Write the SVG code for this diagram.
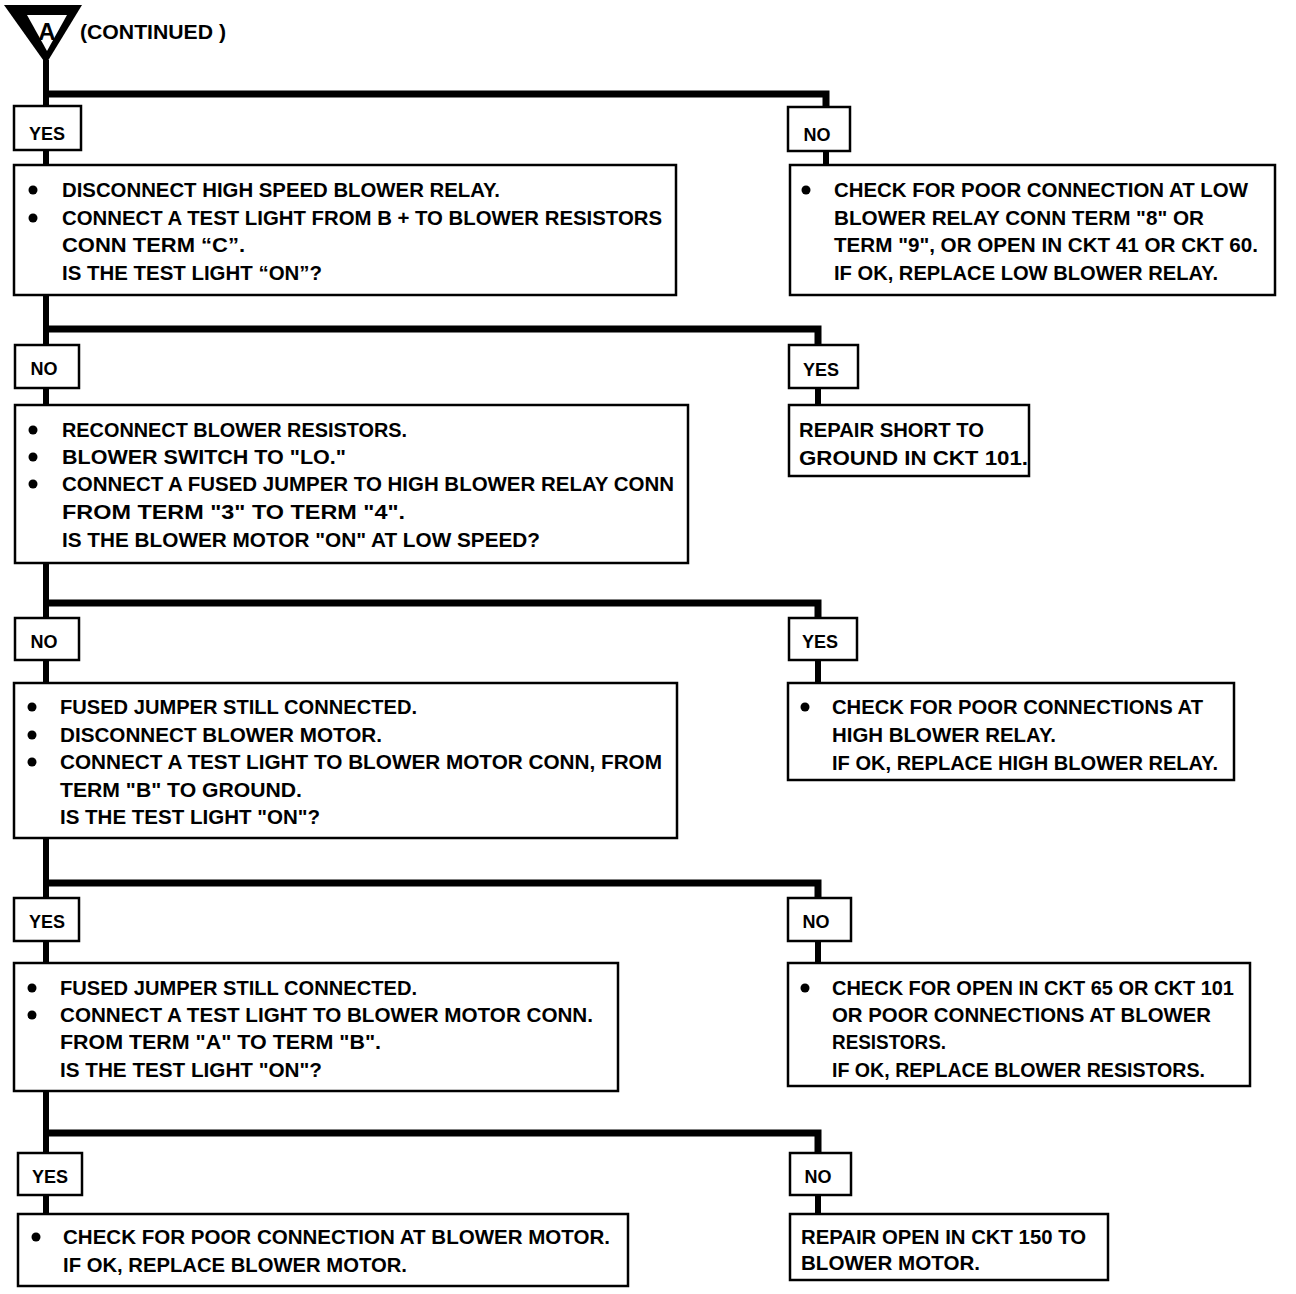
<svg xmlns="http://www.w3.org/2000/svg" width="1296" height="1294" viewBox="0 0 1296 1294">
<style>
.bx{fill:#fff;stroke:#000;stroke-width:2.5}
.lb{fill:#fff;stroke:#000;stroke-width:2.5}
.t{font-family:"Liberation Sans Narrow","Liberation Sans",Arial,sans-serif;font-weight:bold;font-size:20px;fill:#000}
.l{font-family:"Liberation Sans","DejaVu Sans",sans-serif;font-weight:bold;font-size:18px;fill:#000;text-anchor:middle}
.c{fill:none;stroke:#000;stroke-width:7;stroke-linejoin:miter;stroke-linecap:butt}
.s{fill:none;stroke:#000;stroke-width:6}
</style>
<rect width="1296" height="1294" fill="#fff"/>
<g id="start">
<polygon points="4,5 82,5 46,64" fill="#000"/>
<polygon points="27,15 67,15 47,51" fill="#fff"/>
<text x="47" y="40" font-family="Liberation Sans,sans-serif" font-weight="bold" font-size="24" text-anchor="middle">A</text>
<text class="t" x="80" y="39" textLength="146" lengthAdjust="spacingAndGlyphs">(CONTINUED )</text>
</g>
<g id="connectors">
<line class="s" x1="46" y1="60" x2="46" y2="1214"/>
<path class="c" d="M43,94 H826 V108"/>
<line class="s" x1="826" y1="150" x2="826" y2="165"/>
<path class="c" d="M43,329 H818 V345"/>
<line class="s" x1="818" y1="387" x2="818" y2="406"/>
<path class="c" d="M43,603 H818 V618"/>
<line class="s" x1="818" y1="659" x2="818" y2="684"/>
<path class="c" d="M43,883 H818 V899"/>
<line class="s" x1="818" y1="940" x2="818" y2="964"/>
<path class="c" d="M43,1133 H818 V1153"/>
<line class="s" x1="818" y1="1194" x2="818" y2="1215"/>
</g>
<g id="yes1"><rect class="lb" x="14" y="106" width="67" height="44"/><text class="l" x="47" y="140">YES</text></g>
<g id="no1"><rect class="lb" x="788" y="107" width="62" height="44"/><text class="l" x="817" y="141">NO</text></g>
<g id="box1">
<rect class="bx" x="14" y="165" width="662" height="130"/>
<circle cx="33" cy="190" r="4.5"/><circle cx="33" cy="218" r="4.5"/>
<text class="t" x="62" y="197" textLength="438" lengthAdjust="spacingAndGlyphs">DISCONNECT HIGH SPEED BLOWER RELAY.</text>
<text class="t" x="62" y="225" textLength="600" lengthAdjust="spacingAndGlyphs">CONNECT A TEST LIGHT FROM B +  TO BLOWER RESISTORS</text>
<text class="t" x="62" y="252" textLength="183" lengthAdjust="spacingAndGlyphs">CONN TERM “C”.</text>
<text class="t" x="62" y="280" textLength="260" lengthAdjust="spacingAndGlyphs">IS THE TEST LIGHT “ON”?</text>
</g>
<g id="box2">
<rect class="bx" x="790" y="165" width="485" height="130"/>
<circle cx="806" cy="190" r="4.5"/>
<text class="t" x="834" y="197" textLength="414" lengthAdjust="spacingAndGlyphs">CHECK FOR POOR CONNECTION AT LOW</text>
<text class="t" x="834" y="225" textLength="370" lengthAdjust="spacingAndGlyphs">BLOWER RELAY CONN TERM "8" OR</text>
<text class="t" x="834" y="252" textLength="424" lengthAdjust="spacingAndGlyphs">TERM "9", OR OPEN IN CKT 41 OR CKT 60.</text>
<text class="t" x="834" y="280" textLength="384" lengthAdjust="spacingAndGlyphs">IF OK, REPLACE LOW BLOWER RELAY.</text>
</g>
<g id="no2"><rect class="lb" x="15" y="345" width="64" height="43"/><text class="l" x="44" y="375">NO</text></g>
<g id="yes2"><rect class="lb" x="789" y="345" width="69" height="43"/><text class="l" x="821" y="376">YES</text></g>
<g id="box3">
<rect class="bx" x="15" y="405" width="673" height="158"/>
<circle cx="33" cy="430" r="4.5"/><circle cx="33" cy="457" r="4.5"/><circle cx="33" cy="484" r="4.5"/>
<text class="t" x="62" y="437" textLength="345" lengthAdjust="spacingAndGlyphs">RECONNECT BLOWER RESISTORS.</text>
<text class="t" x="62" y="464" textLength="284" lengthAdjust="spacingAndGlyphs">BLOWER SWITCH TO "LO."</text>
<text class="t" x="62" y="491" textLength="612" lengthAdjust="spacingAndGlyphs">CONNECT A FUSED JUMPER TO HIGH BLOWER RELAY CONN</text>
<text class="t" x="62" y="519" textLength="343" lengthAdjust="spacingAndGlyphs">FROM TERM "3" TO TERM "4".</text>
<text class="t" x="62" y="547" textLength="478" lengthAdjust="spacingAndGlyphs">IS THE BLOWER MOTOR "ON" AT LOW SPEED?</text>
</g>
<g id="box4">
<rect class="bx" x="789" y="405" width="240" height="71"/>
<text class="t" x="799" y="437" textLength="185" lengthAdjust="spacingAndGlyphs">REPAIR SHORT TO</text>
<text class="t" x="799" y="465" textLength="229" lengthAdjust="spacingAndGlyphs">GROUND IN CKT 101.</text>
</g>
<g id="no3"><rect class="lb" x="15" y="618" width="64" height="42"/><text class="l" x="44" y="648">NO</text></g>
<g id="yes3"><rect class="lb" x="789" y="618" width="68" height="42"/><text class="l" x="820" y="648">YES</text></g>
<g id="box5">
<rect class="bx" x="14" y="683" width="663" height="155"/>
<circle cx="32" cy="707" r="4.5"/><circle cx="32" cy="735" r="4.5"/><circle cx="32" cy="762" r="4.5"/>
<text class="t" x="60" y="714" textLength="357" lengthAdjust="spacingAndGlyphs">FUSED JUMPER STILL CONNECTED.</text>
<text class="t" x="60" y="742" textLength="322" lengthAdjust="spacingAndGlyphs">DISCONNECT BLOWER MOTOR.</text>
<text class="t" x="60" y="769" textLength="602" lengthAdjust="spacingAndGlyphs">CONNECT A TEST LIGHT TO BLOWER MOTOR CONN, FROM</text>
<text class="t" x="60" y="797" textLength="242" lengthAdjust="spacingAndGlyphs">TERM "B" TO GROUND.</text>
<text class="t" x="60" y="824" textLength="260" lengthAdjust="spacingAndGlyphs">IS THE TEST LIGHT "ON"?</text>
</g>
<g id="box6">
<rect class="bx" x="788" y="683" width="446" height="97"/>
<circle cx="805" cy="707" r="4.5"/>
<text class="t" x="832" y="714" textLength="371" lengthAdjust="spacingAndGlyphs">CHECK FOR POOR CONNECTIONS AT</text>
<text class="t" x="832" y="742" textLength="224" lengthAdjust="spacingAndGlyphs">HIGH BLOWER RELAY.</text>
<text class="t" x="832" y="770" textLength="386" lengthAdjust="spacingAndGlyphs">IF OK, REPLACE HIGH BLOWER RELAY.</text>
</g>
<g id="yes4"><rect class="lb" x="14" y="898" width="65" height="43"/><text class="l" x="47" y="928">YES</text></g>
<g id="no4"><rect class="lb" x="788" y="898" width="63" height="43"/><text class="l" x="816" y="928">NO</text></g>
<g id="box7">
<rect class="bx" x="14" y="963" width="604" height="128"/>
<circle cx="32" cy="988" r="4.5"/><circle cx="32" cy="1015" r="4.5"/>
<text class="t" x="60" y="995" textLength="357" lengthAdjust="spacingAndGlyphs">FUSED JUMPER STILL CONNECTED.</text>
<text class="t" x="60" y="1022" textLength="533" lengthAdjust="spacingAndGlyphs">CONNECT A TEST LIGHT TO BLOWER MOTOR CONN.</text>
<text class="t" x="60" y="1049" textLength="321" lengthAdjust="spacingAndGlyphs">FROM TERM "A" TO TERM "B".</text>
<text class="t" x="60" y="1077" textLength="262" lengthAdjust="spacingAndGlyphs">IS THE TEST LIGHT "ON"?</text>
</g>
<g id="box8">
<rect class="bx" x="788" y="963" width="462" height="123"/>
<circle cx="805" cy="988" r="4.5"/>
<text class="t" x="832" y="995" textLength="402" lengthAdjust="spacingAndGlyphs">CHECK FOR OPEN IN CKT 65 OR CKT 101</text>
<text class="t" x="832" y="1022" textLength="379" lengthAdjust="spacingAndGlyphs">OR POOR CONNECTIONS AT BLOWER</text>
<text class="t" x="832" y="1049" textLength="114" lengthAdjust="spacingAndGlyphs">RESISTORS.</text>
<text class="t" x="832" y="1077" textLength="373" lengthAdjust="spacingAndGlyphs">IF OK, REPLACE BLOWER RESISTORS.</text>
</g>
<g id="yes5"><rect class="lb" x="18" y="1153" width="64" height="42"/><text class="l" x="50" y="1183">YES</text></g>
<g id="no5"><rect class="lb" x="790" y="1153" width="61" height="42"/><text class="l" x="818" y="1183">NO</text></g>
<g id="box9">
<rect class="bx" x="18" y="1214" width="610" height="72"/>
<circle cx="36" cy="1237" r="4.5"/>
<text class="t" x="63" y="1244" textLength="547" lengthAdjust="spacingAndGlyphs">CHECK FOR POOR CONNECTION AT BLOWER MOTOR.</text>
<text class="t" x="63" y="1272" textLength="344" lengthAdjust="spacingAndGlyphs">IF OK, REPLACE BLOWER MOTOR.</text>
</g>
<g id="box10">
<rect class="bx" x="790" y="1214" width="318" height="66"/>
<text class="t" x="801" y="1244" textLength="285" lengthAdjust="spacingAndGlyphs">REPAIR OPEN IN CKT 150 TO</text>
<text class="t" x="801" y="1270" textLength="179" lengthAdjust="spacingAndGlyphs">BLOWER MOTOR.</text>
</g>
</svg>
